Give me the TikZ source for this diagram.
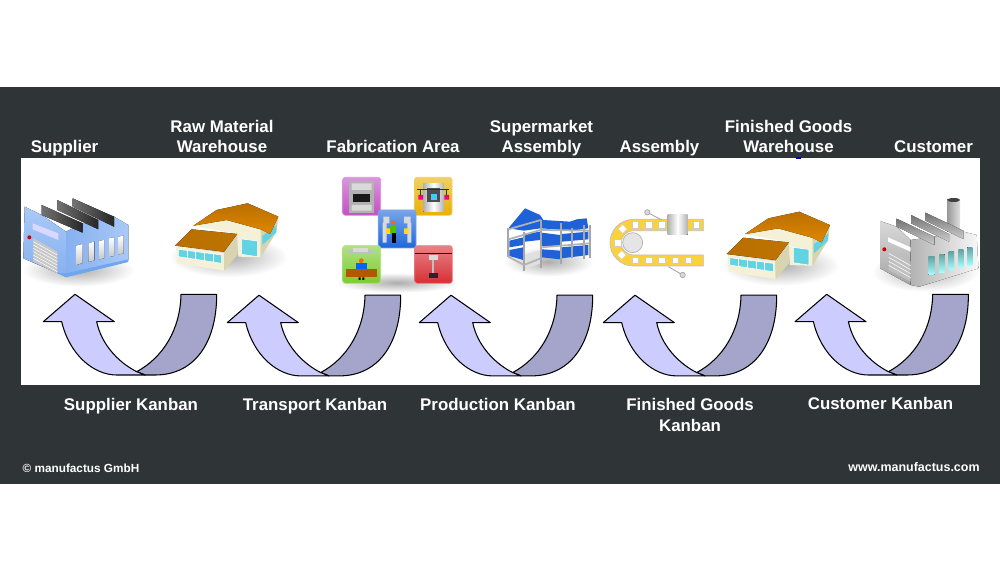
\documentclass[tikz,border=0pt]{standalone}
\usepackage{fontspec}
\setmainfont{Liberation Sans}
\definecolor{panelgrey}{HTML}{2F3437}
\definecolor{arrowlight}{HTML}{CCCCFF}
\definecolor{arrowdark}{HTML}{A5A5CC}
\definecolor{roofbrown}{HTML}{B96F00}
\definecolor{rooforange}{HTML}{E08800}
\definecolor{wallcream}{HTML}{F5F1D6}
\definecolor{wallshade}{HTML}{D8D4B0}
\definecolor{pane}{HTML}{62D3E3}
\definecolor{rackblue}{HTML}{1F62D8}
\definecolor{beltyellow}{HTML}{FBD23C}
\definecolor{hallblue}{HTML}{A9C9F7}
\definecolor{halldeep}{HTML}{86B0F0}
\definecolor{hallband}{HTML}{6FA6EE}
\definecolor{tilemagenta}{HTML}{C24FC4}
\definecolor{tileyellow}{HTML}{E8B000}
\definecolor{tileblue}{HTML}{1E68DC}
\definecolor{tilegreen}{HTML}{7CCB2E}
\definecolor{tilered}{HTML}{D62F35}
\tikzset{
  x=0.02cm, y=-0.02cm,
  steplabel/.style={text=white, font=\bfseries\fontsize{9.6}{11.8}\selectfont, align=center, inner sep=0pt, anchor=base},
  smalllabel/.style={text=white, font=\bfseries\fontsize{6.7}{8}\selectfont, inner sep=0pt, anchor=base},
  kanbanline/.style={draw=black, line width=0.6pt, line join=round},
  softshadow/.style={inner color=black!32, outer color=white},
  tile/.style={rounded corners=1.5pt, draw=#1!60!white, line width=0.4pt, top color=#1!60!white, bottom color=#1},
  steelwin/.style={top color=white, bottom color=black!22},
  glasswin/.style={top color=cyan!40!black!60!white, bottom color=cyan!35!white},
  crate/.style={fill=white, draw=black!20, line width=0.2pt},
  pics/kanban/.style={code={
    \draw[kanbanline, fill=arrowdark] (137.7,0) -- (173.4,0) .. controls (173.4,50) and (150,80.7) .. (112,80.7) -- (101.7,80.7) -- (93.4,77.4) .. controls (120,63) and (137,35) .. (137.7,0) -- cycle;
    \draw[kanbanline, fill=arrowlight] (31.7,0) -- (71,27.4) -- (53.4,27.4) .. controls (58,50) and (75,68) .. (93.4,77.4) -- (101.7,80.7) -- (73.4,80.7) .. controls (50,80.7) and (26,60) .. (18.4,27.4) -- (0,27.4) -- cycle;
  }},
  pics/warehouse/.style={code={
    \begin{scope}[scale=1/3]
    \shade[softshadow] (625,290) ellipse (178 and 62); % shadow
    \fill[wallcream] (520,197) -- (620,180) -- (722,208) -- (722,292) -- (655,290) -- (652,222) -- cycle; % back part
    \fill[wallshade] (722,208) -- (750,222) -- (775,170) -- (770,215) -- (722,292) -- cycle;
    \fill[pane] (727,228) -- (770,195) -- (768,218) -- (727,255) -- cycle;
    \fill[pane, draw=white, line width=0.3pt] (665,237) -- (712,243) -- (712,290) -- (665,283) -- cycle; % door
    \fill[top color=roofbrown, bottom color=rooforange] (520,197) -- (590,150) -- (683,130) -- (775,170) -- (750,222) -- (722,208) -- (620,180) -- cycle;
    \fill[wallcream] (468,260) -- (612,278) -- (612,332) -- (472,310) -- cycle; % front part
    \fill[wallshade] (612,278) -- (652,225) -- (652,285) -- (612,332) -- cycle;
    \fill[pane, draw=white, line width=0.3pt] (475,268) -- (605,285) -- (605,310) -- (475,290) -- cycle;
    \draw[white, line width=0.3pt] (501,271) -- (501,294) (527,274) -- (527,298) (553,278) -- (553,302) (579,281) -- (579,306);
    \fill[left color=roofbrown, right color=rooforange!85!black] (465,257) -- (515,208) -- (652,222) -- (612,275) -- cycle;
    \end{scope}
  }}
}
\begin{document}
\begin{tikzpicture}
  \useasboundingbox (0,0) rectangle (1000,570);
  \fill[white] (0,0) rectangle (1000,570);
  \fill[panelgrey] (0,87) rectangle (1000,484);
  \fill[white] (21,158) rectangle (980,385);
  \fill[blue!80!black] (796,157) rectangle (801,159); % tick under Warehouse

  % blue factory
  \begin{scope}[shift={(20,160)},scale=1/3]
    \shade[softshadow] (175,330) ellipse (168 and 50);
    \fill[top color=hallblue, bottom color=halldeep] (14,140) -- (65,165) -- (138,215) -- (138,350) -- (10,295) -- cycle;
    \fill[left color=halldeep, right color=hallblue] (138,215) -- (188,190) -- (282,170) -- (325,195) -- (325,300) -- (138,342) -- cycle;
    \fill[left color=black!55, right color=black!85] (65,135) -- (188,190) -- (188,218) -- (65,165) -- cycle;
    \fill[left color=black!55, right color=black!85] (112,120) -- (235,180) -- (235,208) -- (112,150) -- cycle;
    \fill[left color=black!55, right color=black!85] (158,115) -- (282,170) -- (282,200) -- (158,140) -- cycle;
    \fill[hallband] (110,338) -- (138,340) -- (325,298) -- (325,306) -- (138,352) -- cycle;
    \fill[white!85!blue] (38,190) -- (115,220) -- (115,240) -- (38,208) -- cycle;
    \fill[black!22] (40,235) -- (112,275) -- (112,340) -- (40,305) -- cycle;
    \draw[white, line width=0.3pt] (40,245) -- (112,285) (40,255) -- (112,295) (40,265) -- (112,305) (40,275) -- (112,315) (40,285) -- (112,325) (40,295) -- (112,335);
    \fill[red!80!black] (28,232) circle (6);
    \fill[steelwin] (168,257) -- (188,252) -- (188,309) -- (168,315) -- cycle;
    \fill[steelwin] (205,250) -- (223,245) -- (223,301) -- (205,306) -- cycle;
    \fill[steelwin] (237,243) -- (252,240) -- (252,295) -- (237,298) -- cycle;
    \fill[steelwin] (267,235) -- (282,232) -- (282,288) -- (267,291) -- cycle;
    \fill[steelwin] (296,230) -- (311,227) -- (311,280) -- (296,283) -- cycle;
  \end{scope}

  \pic at (20,160) {warehouse};
  \pic at (571.6,168.4) {warehouse};

  % fabrication tiles
  \begin{scope}[shift={(320,160)},scale=1/3]
    \shade[softshadow] (232,368) ellipse (185 and 30);
    \shade[tile=tilemagenta] (68,52) rectangle (182,166);
    \fill[black!30] (88,62) rectangle (162,158);
    \fill[white!85!black] (95,70) rectangle (155,90) (95,135) rectangle (155,152);
    \fill[black!90] (100,102) -- (150,102) -- (150,125) -- (100,125) -- cycle;
    \shade[tile=tileyellow] (283,52) rectangle (396,166);
    \fill[left color=black!30, right color=black!30, middle color=white] (310,72) rectangle (372,155);
    \fill[black!70] (322,85) rectangle (360,125);
    \fill[cyan!70] (332,102) rectangle (350,120);
    \draw[black!70!green, line width=0.5pt] (292,88) -- (388,88) (302,88) -- (302,108) (380,88) -- (380,108);
    \fill[magenta] (295,105) rectangle (309,119) (373,105) rectangle (387,119);
    \shade[tile=tileblue] (175,150) rectangle (288,264);
    \fill[black!15] (188,188) rectangle (200,248) (262,188) rectangle (274,248);
    \fill[white!85!black] (190,170) rectangle (208,190) (252,170) rectangle (272,190);
    \fill[yellow!80!orange] (198,205) rectangle (212,222) (252,205) rectangle (266,222);
    \fill[green!60!black!60!lime] (210,195) rectangle (228,218);
    \fill[black] (215,218) rectangle (228,248);
    \fill[orange!80!red] (220,188) circle (6);
    \shade[tile=tilegreen] (68,257) rectangle (182,370);
    \fill[black!25] (85,270) rectangle (160,280);
    \fill[white!85!black] (100,265) rectangle (145,275);
    \fill[blue!60!cyan] (108,310) rectangle (142,328);
    \fill[orange!80!red] (124,302) circle (7);
    \fill[orange!70!black] (78,328) rectangle (170,352);
    \fill[black] (116,352) rectangle (122,360) (127,352) rectangle (133,360);
    \shade[tile=tilered] (284,257) rectangle (397,370);
    \draw[blue!50!black, line width=0.7pt] (284,280) -- (397,280);
    \fill[black!15] (328,285) rectangle (353,300);
    \draw[black!25, line width=1.2pt] (340,300) -- (340,340);
    \fill[black!85] (326,340) rectangle (354,354);
  \end{scope}

  % rack
  \begin{scope}[shift={(320,160)},scale=1/3]
    \shade[softshadow] (685,305) ellipse (135 and 45);
    \fill[rackblue] (565,205) -- (590,175) -- (615,145) -- (660,165) -- (670,180) -- (750,185) -- (770,178) -- (800,175) -- (805,205) -- (755,212) -- (662,205) -- (612,212) -- cycle;
    \fill[rackblue] (568,242) -- (610,232) -- (610,255) -- (568,262) -- cycle;
    \fill[rackblue] (568,270) -- (610,262) -- (610,300) -- (568,288) -- cycle;
    \fill[rackblue] (615,222) -- (660,215) -- (660,240) -- (615,245) -- cycle;
    \fill[rackblue] (665,218) -- (720,225) -- (720,258) -- (665,258) -- cycle;
    \fill[rackblue] (725,222) -- (805,215) -- (805,238) -- (725,245) -- cycle;
    \fill[rackblue] (665,268) -- (720,272) -- (720,298) -- (665,292) -- cycle;
    \fill[rackblue] (725,262) -- (805,255) -- (805,285) -- (725,295) -- cycle;
    \fill[black!12] (612,285) -- (662,270) -- (662,310) -- (612,330) -- cycle;
    \draw[black!35, line width=1.3pt] (565,205) -- (565,290) (612,215) -- (612,332) (662,180) -- (662,325) (722,190) -- (722,312) (755,205) -- (755,295) (792,195) -- (792,298) (810,195) -- (810,295);
    \draw[black!30, line width=1pt] (565,208) -- (662,180) (565,238) -- (662,210) -- (810,212) (565,290) -- (612,315) -- (662,295) (662,262) -- (810,250);
  \end{scope}

  % conveyor
  \begin{scope}[shift={(600,160)},scale=1/3]
    \fill[beltyellow, draw=black!25, line width=0.4pt] (310,178) -- (100,178) arc[start angle=270, end angle=90, radius=70] -- (310,318) -- (310,285) -- (100,285) arc[start angle=90, end angle=270, radius=36.5] -- (310,212) -- cycle;
    \draw[black!35, line width=0.5pt] (142,157) -- (185,180) (248,345) -- (205,320);
    \draw[black!35, fill=black!15, line width=0.4pt] (142,157) circle (8) (248,345) circle (8);
    \draw[black!30, fill=black!10, line width=0.4pt] (98,248) circle (30);
    \foreach \bx in {105,146,185,288} {\fill[crate] (\bx-10,185) rectangle (\bx+10,205);}
    \foreach \bx in {105,146,185,225,264} {\fill[crate] (\bx-10,291) rectangle (\bx+10,311);}
    \fill[crate] (68,194) -- (81,207) -- (68,220) -- (55,207) -- cycle;
    \fill[crate] (42,238) rectangle (62,258);
    \fill[crate] (65,272) -- (78,285) -- (65,298) -- (52,285) -- cycle;
    \fill[left color=black!30, right color=black!30, middle color=white] (203,165) rectangle (263,225);
  \end{scope}

  % grey factory
  \begin{scope}[shift={(600,160)},scale=1/3]
    \shade[softshadow] (975,335) ellipse (160 and 60);
    \fill[left color=black!40, right color=black!12] (1042,118) rectangle (1080,215);
    \fill[black!75] (1061,120) ellipse (19 and 6);
    \fill[top color=black!15, bottom color=black!35] (840,183) -- (890,200) -- (932,240) -- (932,375) -- (840,325) -- cycle;
    \fill[left color=black!30, right color=black!3] (932,240) -- (1003,230) -- (1090,215) -- (1130,225) -- (1135,325) -- (958,380) -- (932,375) -- cycle;
    \fill[top color=black!55, bottom color=black!20] (890,176) -- (1003,230) -- (1003,255) -- (890,200) -- cycle;
    \fill[top color=black!55, bottom color=black!20] (933,165) -- (1047,222) -- (1047,245) -- (933,190) -- cycle;
    \fill[top color=black!55, bottom color=black!20] (976,158) -- (1090,212) -- (1090,237) -- (976,182) -- cycle;
    \fill[white] (864,232) -- (932,262) -- (932,275) -- (864,245) -- cycle;
    \fill[black!25] (866,268) -- (932,305) -- (932,365) -- (866,330) -- cycle;
    \draw[white, line width=0.3pt] (866,280) -- (932,317) (866,292) -- (932,329) (866,304) -- (932,341) (866,316) -- (932,353);
    \fill[red!80!black] (853,268) circle (6);
    \fill[glasswin] (985,290) rectangle (1004,345);
    \fill[glasswin] (1017,283) rectangle (1034,337);
    \fill[glasswin] (1046,276) rectangle (1062,329);
    \fill[glasswin] (1075,269) rectangle (1090,322);
    \fill[glasswin] (1102,262) rectangle (1117,316);
  \end{scope}

  \pic at (43.3,294.3) {kanban};
  \pic at (227.3,295.2) {kanban};
  \pic at (419.3,295.2) {kanban};
  \pic at (603.3,295.2) {kanban};
  \pic at (795,294.3) {kanban};

  \node (supplier) [steplabel] at (64.5,152.5) {Supplier};
  \node (rawmaterial) [steplabel] at (222,153) {Raw Material\\Warehouse};
  \node (fabrication) [steplabel] at (393,152.5) {Fabrication Area};
  \node (supermarket) [steplabel] at (541.5,153) {Supermarket\\Assembly};
  \node (assembly) [steplabel] at (659.5,152.5) {Assembly};
  \node (finishedwh) [steplabel] at (788.5,153) {Finished Goods\\Warehouse};
  \node (customer) [steplabel] at (933.5,152.5) {Customer};

  \node (supplierkb) [steplabel] at (131,410.5) {Supplier Kanban};
  \node (transportkb) [steplabel] at (315,410.5) {Transport Kanban};
  \node (productionkb) [steplabel] at (498,410.5) {Production Kanban};
  \node (finishedkb) [steplabel] at (690,431.5) {Finished Goods\\Kanban};
  \node (customerkb) [steplabel] at (880.5,409.5) {Customer Kanban};

  \node (copyright) [smalllabel] at (81,472) {© manufactus GmbH};
  \node (website) [smalllabel, font=\bfseries\fontsize{7.1}{8}\selectfont] at (914,471) {www.manufactus.com};
\end{tikzpicture}
\end{document}
